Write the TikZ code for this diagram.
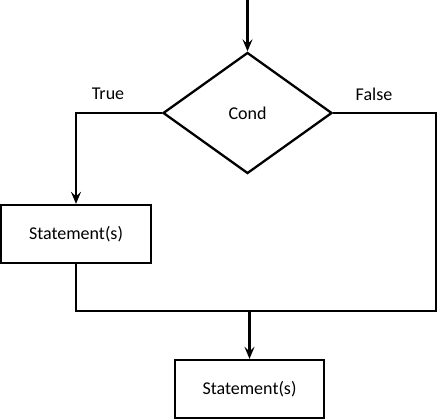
\documentclass[tikz,border=0pt]{standalone}
\usepackage{fontspec}
\setmainfont{Carlito}
\usetikzlibrary{positioning}
\usetikzlibrary{shapes.geometric}
\usetikzlibrary{arrows.meta}

\begin{document}
\begin{tikzpicture}[x=1pt,y=-1pt,line width=2.3pt,>={Stealth[length=12pt,width=10pt,inset=4.5pt]}]
			\tikzset{decision/.style = {shape=diamond, draw, inner sep=0pt, minimum width=169pt, minimum height=121pt}}
			\tikzset{block/.style = {shape=rectangle, draw, inner sep=0pt, minimum width=150pt, minimum height=58pt}}
			\tikzset{every node/.style = {font=\fontsize{18}{21}\selectfont}}
			
			\useasboundingbox (0,0) rectangle (438,419);
			
			\node[decision] (COND) at (247.5,113) {Cond};
			\node[block] (BODY) at (76,234) {Statement(s)};
			\node[block, minimum width=149pt] (NEXT) at (249.5,389) {Statement(s)};
			
			\node (TRUE) at (108,94) {True};
			\node (FALSE) at (374,94) {False};
			
			\coordinate (START) at (247.5,0);
			\coordinate (RIGHT) at (436,311);
			\coordinate (MERGE) at (249.5,311);
			
			\draw[->] (START) -- (COND.north);
			\draw[->] (COND.west) -| (BODY.north);
			\draw (COND.east) -| (RIGHT) -- (MERGE);
			\draw (BODY.south) |- (MERGE);
			\draw[->] (MERGE) -- (NEXT.north);
			
\end{tikzpicture}
\end{document}
